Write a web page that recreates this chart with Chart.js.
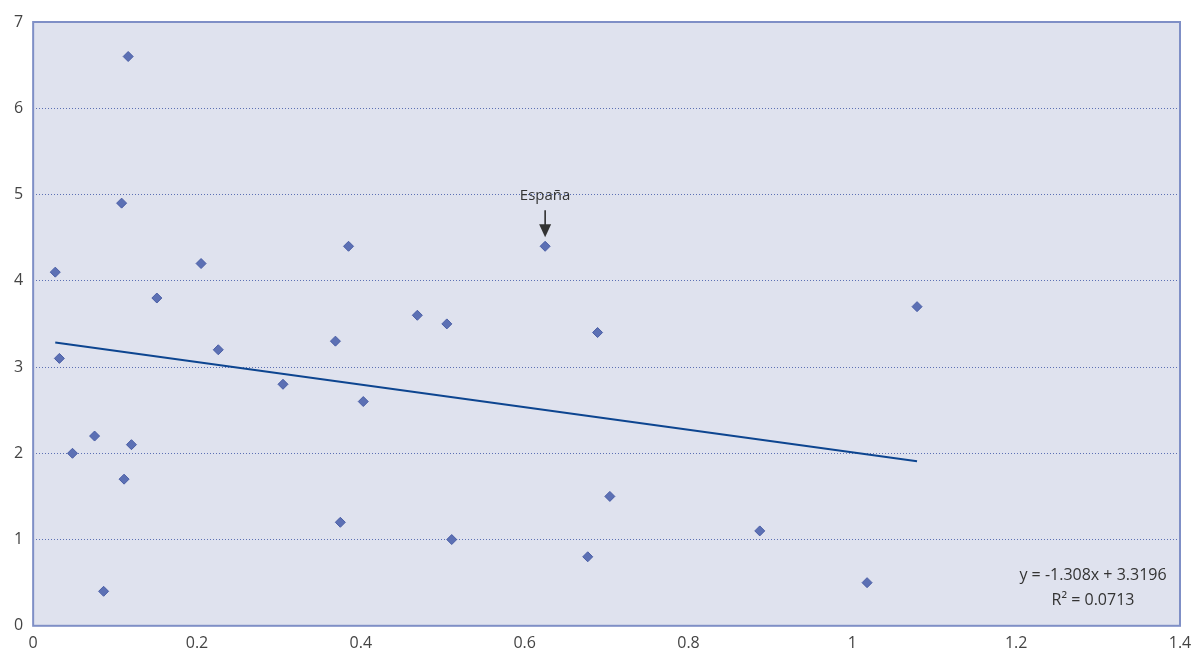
<!DOCTYPE html>
<html><head><meta charset="utf-8">
<script src="https://cdn.jsdelivr.net/npm/chart.js@4"></script>
<style>html,body{margin:0;background:#fff}#wrap{width:1194px;height:656px}</style>
</head><body><div id="wrap"><canvas id="c"></canvas></div>
<script>
// valores
const xValues = [0.027,0.032,0.048,0.075,0.086,0.108,0.111,0.116,0.120,0.151,0.205,0.226,0.305,0.369,0.375,0.385,0.403,0.469,0.505,0.511,0.625,0.677,0.689,0.704,0.887,1.018,1.079];
const yValues = [4.1,3.1,2.0,2.2,0.4,4.9,1.7,6.6,2.1,3.8,4.2,3.2,2.8,3.3,1.2,4.4,2.6,3.6,3.5,1.0,4.4,0.8,3.4,1.5,1.1,0.5,3.7];
const slope = -1.308, intercept = 3.3196, r2 = 0.0713;
const trendX = [0.027, 1.079];
const label = { text: 'España', x: 0.625, y: 4.4 };

const points = xValues.map((x, i) => ({ x, y: yValues[i] }));
const trend = trendX.map(x => ({ x, y: slope * x + intercept }));
const font = "'Open Sans', sans-serif";

// fondo del área y anotaciones
const extras = {
  id: 'extras',
  beforeDraw(chart) {
    const { ctx, chartArea: a } = chart;
    ctx.save();
    ctx.fillStyle = '#dfe2ee';
    ctx.fillRect(a.left, a.top, a.right - a.left, a.bottom - a.top);
    ctx.restore();
  },
  afterDraw(chart) {
    const { ctx, chartArea: a, scales } = chart;
    ctx.save();
    ctx.strokeStyle = '#7f8fc6';
    ctx.lineWidth = 2;
    ctx.strokeRect(a.left, a.top, a.right - a.left, a.bottom - a.top);
    const px = scales.x.getPixelForValue(label.x), py = scales.y.getPixelForValue(label.y);
    ctx.fillStyle = '#333';
    ctx.font = '15px ' + font;
    ctx.textAlign = 'center';
    ctx.fillText(label.text, px, py - 46);
    ctx.strokeStyle = '#222'; ctx.lineWidth = 1.5;
    ctx.beginPath(); ctx.moveTo(px, py - 36); ctx.lineTo(px, py - 20); ctx.stroke();
    ctx.beginPath(); ctx.moveTo(px - 6, py - 22); ctx.lineTo(px + 6, py - 22); ctx.lineTo(px, py - 9); ctx.closePath(); ctx.fill();
    ctx.font = '16px ' + font;
    ctx.textAlign = 'center';
    const cx = a.right - 87;
    ctx.fillText('y = ' + slope + 'x + ' + intercept, cx, a.bottom - 46);
    ctx.fillText('R² = ' + r2, cx, a.bottom - 21);
    ctx.restore();
  }
};

new Chart(document.getElementById('c'), {
  type: 'scatter',
  data: {
    datasets: [
      { data: points, pointStyle: 'rectRot', pointRadius: 5, backgroundColor: '#5c70b4', borderColor: '#4a5ea6', borderWidth: 1 },
      { type: 'line', data: trend, borderColor: '#0d4590', borderWidth: 2, pointRadius: 0, fill: false }
    ]
  },
  options: {
    responsive: true, maintainAspectRatio: false, animation: false,
    layout: { padding: { top: 22, right: 14, left: 4, bottom: 3 } },
    plugins: { legend: { display: false }, tooltip: { enabled: false } },
    scales: {
      x: { type: 'linear', min: 0, max: 1.4,
        ticks: { stepSize: 0.2, color: '#444', padding: 0, font: { family: font, size: 16 }, callback: v => +v.toFixed(1) },
        grid: { display: false }, border: { display: false } },
      y: { min: 0, max: 7,
        ticks: { stepSize: 1, color: '#444', padding: 10, font: { family: font, size: 16 } },
        grid: { color: '#5c70b4', lineWidth: 1, drawTicks: false },
        border: { display: false, dash: [1, 2] } }
    }
  },
  plugins: [extras]
});
</script></body></html>
